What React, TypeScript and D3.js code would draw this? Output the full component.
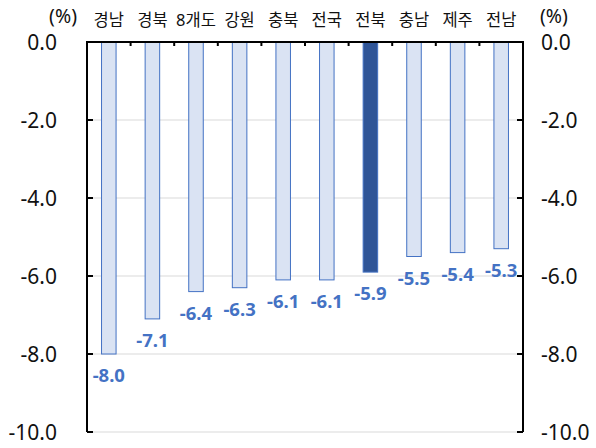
import React from "react";
import * as d3 from "d3";

const categories = ["경남", "경북", "8개도", "강원", "충북", "전국", "전북", "충남", "제주", "전남"];
const values = [-8.0, -7.1, -6.4, -6.3, -6.1, -6.1, -5.9, -5.5, -5.4, -5.3];
const highlight = ["전북"];
const yTicks = [0, -2, -4, -6, -8, -10];

const W = 596, H = 448;
const M = { left: 87, right: 523, top: 42, bottom: 432 };
const FONT = "'Noto Sans', 'Noto Sans CJK KR', sans-serif";

export default function App() {
  const x = d3.scaleBand<string>().domain(categories).range([M.left, M.right]).paddingInner(0).paddingOuter(0);
  const y = d3.scaleLinear().domain([0, -10]).range([M.top, M.bottom]);
  const bw = x.bandwidth() / 3;
  const f = d3.format(".1f");
  const fmt = (v: number) => f(v).replace("\u2212", "-");
  return (
    <svg width={W} height={H} style={{ position: "absolute", left: 0, top: 0, background: "#fff" }}>
      {yTicks.filter(t => t !== 0).map(t => (
        <line key={"g" + t} x1={M.left} x2={M.right} y1={y(t)} y2={y(t)} stroke="#d9d9d9" strokeWidth={1} />
      ))}
      {categories.map((c, i) => {
        const v = values[i];
        const hl = highlight.includes(c);
        const cx = x(c)! + x.bandwidth() / 2;
        return (
          <g key={c}>
            <rect x={cx - bw / 2} y={y(0)} width={bw} height={y(v) - y(0)}
              fill={hl ? "#2F5597" : "#DAE3F3"} stroke="#4472C4" strokeWidth={1} />
            <text x={cx} y={y(v) + 28} textAnchor="middle" fill="#4472C4" fontFamily={FONT}
              fontSize={18.5} fontWeight="bold">{fmt(v)}</text>
            <text x={cx} y={26} textAnchor="middle" fill="#111" fontFamily={FONT} fontSize={16.5}>{c}</text>
          </g>
        );
      })}
      {categories.slice(1).map(c => (
        <line key={"t" + c} x1={x(c)!} x2={x(c)!} y1={M.top} y2={M.top + 4} stroke="#000" strokeWidth={2} />
      ))}
      <line x1={M.left} x2={M.right} y1={M.top} y2={M.top} stroke="#000" strokeWidth={2} />
      <line x1={M.left} x2={M.left} y1={M.top - 1} y2={M.bottom} stroke="#000" strokeWidth={2} />
      <line x1={M.right} x2={M.right} y1={M.top - 1} y2={M.bottom} stroke="#000" strokeWidth={2} />
      {yTicks.map(t => (
        <g key={"y" + t}>
          <line x1={M.left} x2={M.left + 6} y1={y(t)} y2={y(t)} stroke="#000" strokeWidth={2} />
          <line x1={M.right - 6} x2={M.right} y1={y(t)} y2={y(t)} stroke="#000" strokeWidth={2} />
          <text x={57} y={y(t) + 8} textAnchor="end" fontFamily={FONT} fontSize={21} fill="#111">{fmt(t)}</text>
          <text x={541} y={y(t) + 8} textAnchor="start" fontFamily={FONT} fontSize={21} fill="#111">{fmt(t)}</text>
        </g>
      ))}
      <text x={77} y={23} textAnchor="end" fontFamily={FONT} fontSize={19.5} fill="#111">(%)</text>
      <text x={540} y={23} textAnchor="start" fontFamily={FONT} fontSize={19.5} fill="#111">(%)</text>
    </svg>
  );
}
